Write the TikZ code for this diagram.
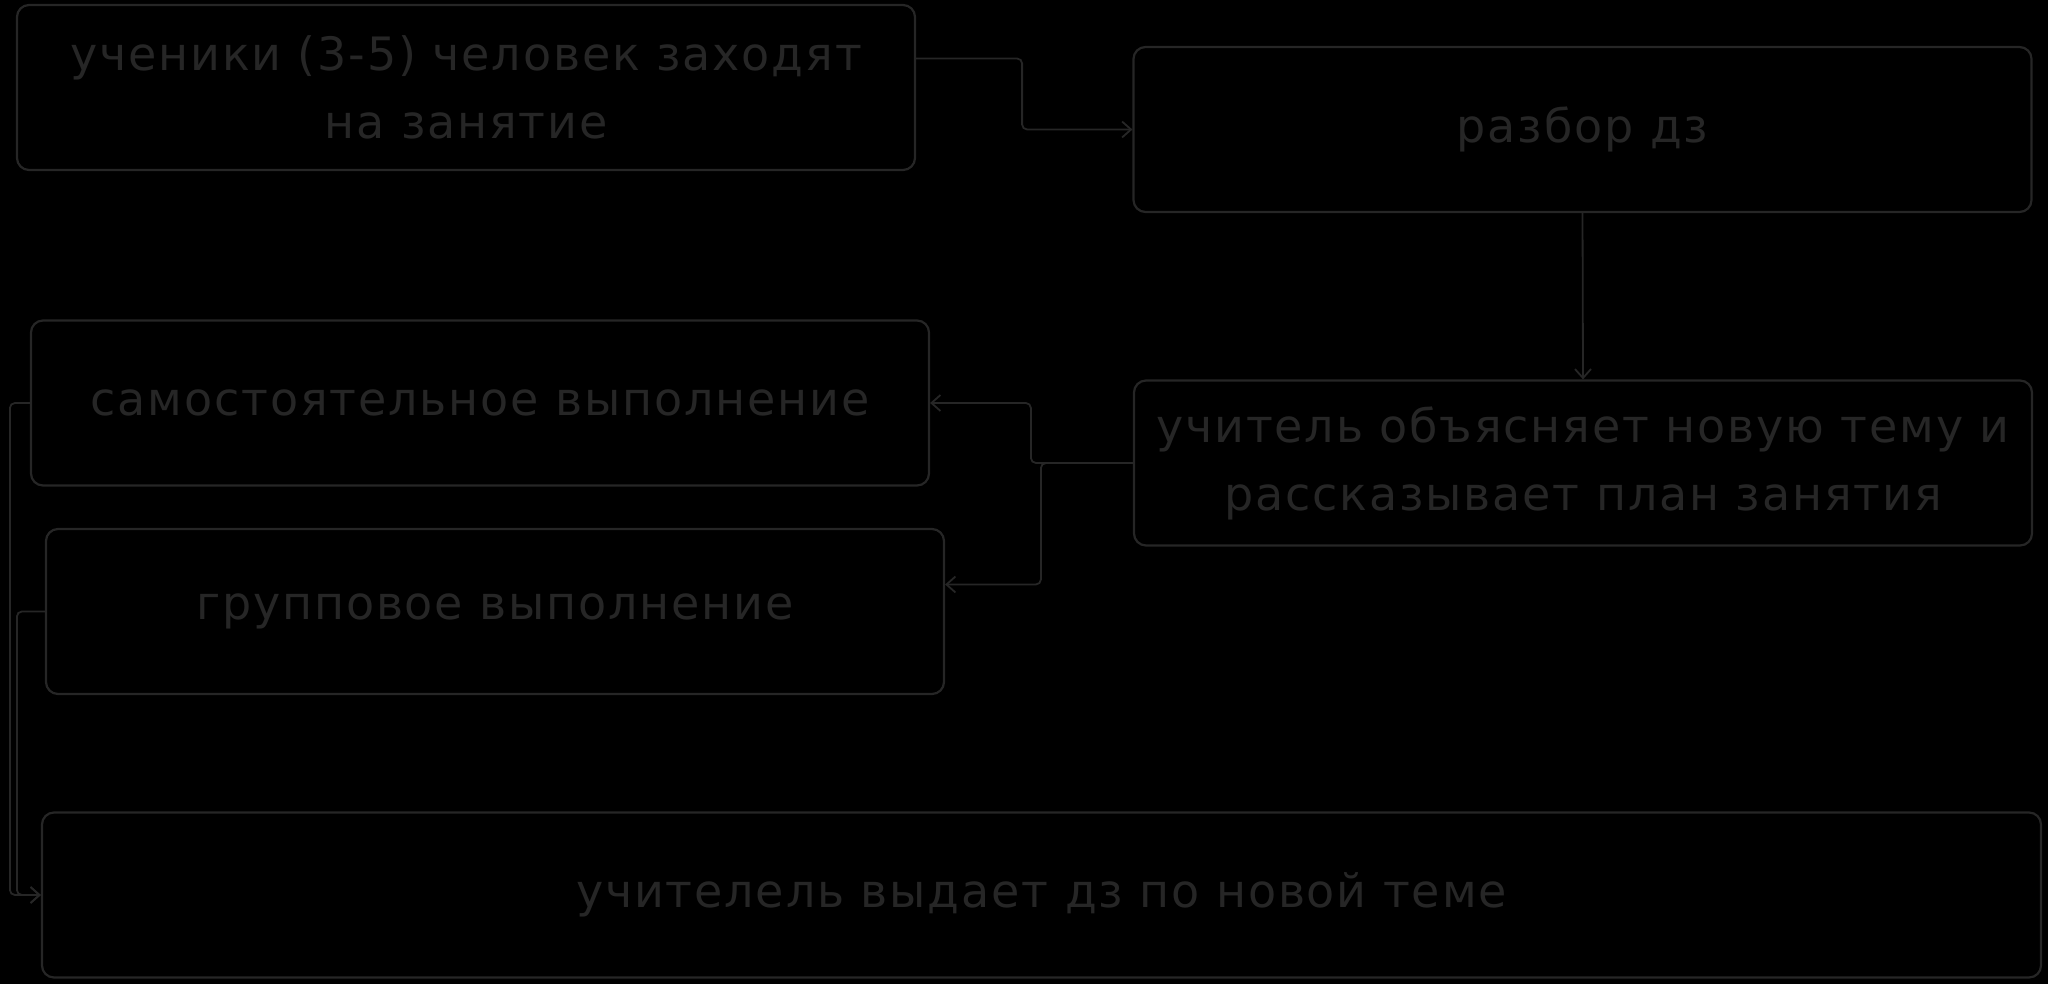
\documentclass[tikz,border=0pt]{standalone}
\usepackage{fontspec}
\setmainfont{DejaVu Sans}[LetterSpace=4]
\usetikzlibrary{arrows.meta}
\definecolor{ink}{RGB}{38,38,38}
\tikzset{
	stepbox/.style={draw=ink, line width=2.2pt, rounded corners=12pt, text=ink,
		minimum width=898pt, minimum height=165pt, align=center,
		font=\fontsize{46}{68}\selectfont},
	arr/.style={draw=ink, line width=1.8pt, rounded corners=5pt,
		-{Straight Barb[length=9pt,width=16pt,line width=1.8pt]}}
}
\begin{document}
\begin{tikzpicture}[x=1pt,y=-1pt]
		% Background.
		\fill[black] (0,0) rectangle (2048,984);
		\useasboundingbox (0,0) rectangle (2048,984);
		
		% Draw boxes.
		\node[stepbox] (vhod) at (466,87.5) {ученики (3-5) человек заходят\\на занятие};
		\node[stepbox] (razbor) at (1582.5,129.5) {разбор дз};
		\node[stepbox] (obyasn) at (1583,463) {учитель объясняет новую тему и\\рассказывает план занятия};
		\node[stepbox] (samost) at (480,403) {самостоятельное выполнение};
		\node[stepbox] (gruppa) at (495,611.5) {групповое выполнение};
		\node[stepbox, minimum width=1999pt] (dz) at (1041.5,895) {учителель выдает дз по новой теме};
		
		% Connect boxes.
		\draw[arr] ([yshift=29pt]vhod.east) -- ++(106,0) |- (razbor.west);
		\draw[arr] (razbor.south) -- (obyasn.north);
		\draw[arr] (obyasn.west) -- ++(-102,0) |- (samost.east);
		\draw[arr] (obyasn.west) -- ++(-92,0) |- ([yshift=27pt]gruppa.east);
		\draw[arr] (samost.west) -- ++(-20,0) |- (dz.west);
		\draw[arr] (gruppa.west) -- ++(-28,0) |- (dz.west);
	\end{tikzpicture}
\end{document}
